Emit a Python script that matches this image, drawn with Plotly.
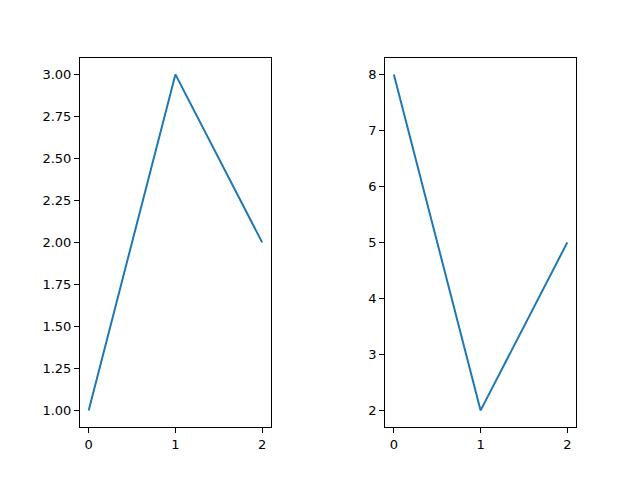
import plotly.graph_objects as go
from plotly.subplots import make_subplots

# data
x_vals = [0, 1, 2]
left_y = [1, 3, 2]
right_y = [8, 2, 5]

line_color = "#1f77b4"

# the page body adds an 8px margin, so the figure is 632x472 and the
# domains are worked out in pixels of that smaller area
W, H = 632, 472

fig = make_subplots(rows=1, cols=2)

fig.add_trace(go.Scatter(x=x_vals, y=left_y, mode="lines",
                         line=dict(color=line_color, width=2), showlegend=False),
              row=1, col=1)
fig.add_trace(go.Scatter(x=x_vals, y=right_y, mode="lines",
                         line=dict(color=line_color, width=2), showlegend=False),
              row=1, col=2)

axis_style = dict(
    showline=True, mirror=True, linecolor="black", linewidth=1,
    ticks="outside", ticklen=5, tickwidth=1, tickcolor="black",
    showgrid=False, zeroline=False,
    tickfont=dict(family="DejaVu Sans", size=13, color="black"),
)

fig.update_xaxes(**axis_style)
fig.update_yaxes(**axis_style)

y_dom = [52.8 / H, (H - 49.6) / H]

fig.update_layout(
    width=W, height=H,
    margin=dict(l=0, r=0, t=0, b=0),
    paper_bgcolor="white", plot_bgcolor="white",
    xaxis=dict(domain=[72 / W, 262.8 / W], range=[-0.1, 2.1], tickvals=[0, 1, 2]),
    xaxis2=dict(domain=[377.2 / W, 568 / W], range=[-0.1, 2.1], tickvals=[0, 1, 2]),
    yaxis=dict(domain=y_dom, range=[0.9, 3.1], dtick=0.25, tickformat=".2f"),
    yaxis2=dict(domain=y_dom, range=[1.7, 8.3], dtick=1),
)

fig.write_html("out.html")
